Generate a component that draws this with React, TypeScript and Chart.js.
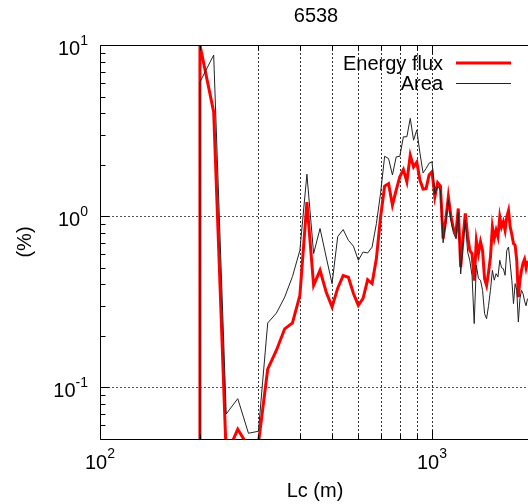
import React, { useEffect, useRef } from "react";
import { Chart, registerables } from "chart.js";

Chart.register(...registerables);

const FONT = '"Liberation Sans", Arial, Helvetica, sans-serif';

const TITLE = "6538";
const X_TITLE = "Lc (m)";
const Y_TITLE = "(%)";
const SERIES_ENERGY = "Energy flux";
const SERIES_AREA = "Area";

// Lc bins (m); the first entry is the zero baseline before the first bin
const LC = [
  200, 200, 220, 240, 260, 280, 300, 320, 340, 360, 380,
  400, 420, 440, 460, 480, 500, 520, 540, 560, 580,
  600, 620, 640, 660, 680, 700, 720, 740, 760, 780,
  800, 820, 840, 860, 880, 900, 920, 940, 960, 980,
  1000, 1020, 1040, 1060, 1080, 1100, 1120, 1140, 1160, 1180,
  1200, 1220, 1240, 1260, 1280, 1300, 1320, 1340, 1360, 1380,
  1400, 1420, 1440, 1460, 1480, 1500, 1520, 1540, 1560, 1580,
  1600, 1620, 1640, 1660, 1680, 1700, 1720, 1740, 1760, 1780,
  1800, 1820, 1840, 1860, 1880, 1900, 1920, 1940,
];

const ENERGY_FLUX = [
  0.0001, 10.0, 4.07, 0.04, 0.057, 0.045, 0.047, 0.128, 0.165, 0.22, 0.238,
  0.345, 1.21, 0.395, 0.483, 0.361, 0.295, 0.38, 0.45, 0.44, 0.354,
  0.302, 0.331, 0.426, 0.404, 0.566, 0.99, 1.5, 1.55, 1.16, 1.42,
  1.7, 1.87, 1.59, 2.27, 1.94, 2.07, 1.62, 1.44, 1.45, 1.74,
  1.82, 1.3, 1.57, 1.5, 0.74, 0.95, 1.3, 1.0, 0.85, 0.79,
  1.11, 0.505, 0.75, 1.04, 0.77, 0.63, 0.605, 0.42, 0.72, 0.605,
  0.708, 0.632, 0.432, 0.395, 0.47, 0.578, 0.866, 0.741, 0.828, 0.757,
  0.99, 0.866, 0.927, 0.828, 0.99, 1.08, 0.866, 0.78, 0.692, 0.676,
  0.553, 0.337, 0.423, 0.483, 0.531, 0.56, 0.5, 0.55,
];

const AREA = [
  0.0001, 6.08, 8.74, 0.07, 0.086, 0.054, 0.0555, 0.238, 0.272, 0.337, 0.445,
  0.632, 1.76, 0.605, 0.848, 0.578, 0.404, 0.76, 0.836, 0.724, 0.668,
  0.553, 0.618, 0.61, 0.66, 0.906, 1.36, 2.24, 2.17, 1.74, 2.22,
  2.24, 2.91, 2.91, 3.73, 2.78, 3.19, 2.33, 1.79, 1.9, 2.04,
  2.08, 1.35, 1.5, 1.42, 0.7, 0.92, 1.25, 0.95, 0.8, 0.74,
  1.05, 0.46, 0.68, 0.95, 0.62, 0.55, 0.45, 0.236, 0.517, 0.432,
  0.423, 0.369, 0.27, 0.252, 0.3, 0.369, 0.483, 0.423, 0.462, 0.442,
  0.553, 0.5, 0.494, 0.452, 0.632, 0.661, 0.529, 0.42, 0.309, 0.404,
  0.369, 0.241, 0.33, 0.369, 0.353, 0.32, 0.3, 0.33,
];

const X_MIN = 100;
const X_MAX = 1946;
const Y_MIN = 0.05;
const Y_MAX = 10;

const X_MAJOR = [100, 1000];
const X_MAJOR_LABELS = [["10", "2"], ["10", "3"]];
const X_MINOR = [200, 300, 400, 500, 600, 700, 800, 900];
const X_GRID = [200, 300, 400, 500, 600, 700, 800, 900, 1000];

const Y_MAJOR = [10, 1, 0.1];
const Y_MAJOR_LABELS = [["10", "1"], ["10", "0"], ["10", "-1"]];
const Y_MINOR = [0.06, 0.07, 0.08, 0.09, 0.2, 0.3, 0.4, 0.5, 0.6, 0.7, 0.8, 0.9, 2, 3, 4, 5, 6, 7, 8, 9];
const Y_GRID = [1, 0.1];

const gnuplotLook = {
  id: "gnuplotLook",
  beforeDatasetsDraw(chart: any) {
    const { ctx, chartArea: a, scales } = chart;
    const xs = scales.x;
    const ys = scales.y;
    ctx.save();
    ctx.lineWidth = 1;
    ctx.strokeStyle = "#333";
    ctx.setLineDash([2, 2]);
    for (const v of X_GRID) {
      const px = Math.round(xs.getPixelForValue(v)) + 0.5;
      ctx.beginPath();
      ctx.moveTo(px, a.top);
      ctx.lineTo(px, a.bottom);
      ctx.stroke();
    }
    ctx.strokeStyle = "#555";
    for (const v of Y_GRID) {
      const py = Math.round(ys.getPixelForValue(v)) + 0.5;
      ctx.beginPath();
      ctx.moveTo(a.left, py);
      ctx.lineTo(a.right, py);
      ctx.stroke();
    }
    ctx.restore();
  },
  afterDatasetsDraw(chart: any) {
    const { ctx, chartArea: a, scales } = chart;
    const xs = scales.x;
    const ys = scales.y;
    const L = Math.round(a.left) + 0.5;
    const T = Math.round(a.top) + 0.5;
    const B = Math.round(a.bottom) + 0.5;
    const R = a.right;
    ctx.save();
    ctx.setLineDash([]);
    ctx.lineWidth = 1;
    ctx.strokeStyle = "#000";
    ctx.beginPath();
    ctx.moveTo(R, T);
    ctx.lineTo(L, T);
    ctx.lineTo(L, B);
    ctx.lineTo(R, B);
    ctx.stroke();
    // ticks
    const tick = (px: number, len: number) => {
      ctx.beginPath();
      ctx.moveTo(px, B);
      ctx.lineTo(px, B - len);
      ctx.moveTo(px, T);
      ctx.lineTo(px, T + len);
      ctx.stroke();
    };
    for (const v of X_MINOR) tick(Math.round(xs.getPixelForValue(v)) + 0.5, 5);
    for (const v of X_MAJOR) tick(Math.round(xs.getPixelForValue(v)) + 0.5, 9);
    for (const v of Y_MINOR) {
      const py = Math.round(ys.getPixelForValue(v)) + 0.5;
      ctx.beginPath();
      ctx.moveTo(L, py);
      ctx.lineTo(L + 5, py);
      ctx.stroke();
    }
    for (const v of Y_MAJOR) {
      const py = Math.round(ys.getPixelForValue(v)) + 0.5;
      ctx.beginPath();
      ctx.moveTo(L, py);
      ctx.lineTo(L + 9, py);
      ctx.stroke();
    }
    ctx.restore();
  },
  afterDraw(chart: any) {
    const { ctx, scales } = chart;
    const xs = scales.x;
    const ys = scales.y;
    ctx.save();
    ctx.fillStyle = "#000";
    ctx.textBaseline = "alphabetic";
    const big = `20px ${FONT}`;
    const small = `14px ${FONT}`;

    // x tick labels
    X_MAJOR.forEach((v, i) => {
      const [b, e] = X_MAJOR_LABELS[i];
      ctx.font = big;
      const wb = ctx.measureText(b).width;
      ctx.font = small;
      const we = ctx.measureText(e).width;
      const px = xs.getPixelForValue(v);
      const start = px - (wb + we) / 2;
      ctx.textAlign = "left";
      ctx.font = big;
      ctx.fillText(b, start, 469);
      ctx.font = small;
      ctx.fillText(e, start + wb, 458);
    });

    // y tick labels
    Y_MAJOR.forEach((v, i) => {
      const [b, e] = Y_MAJOR_LABELS[i];
      const py = ys.getPixelForValue(v);
      ctx.font = small;
      const we = ctx.measureText(e).width;
      ctx.textAlign = "right";
      ctx.fillText(e, 88, py);
      ctx.font = big;
      ctx.fillText(b, 88 - we, py + 10);
    });

    // title
    ctx.font = big;
    ctx.textAlign = "center";
    ctx.fillText(TITLE, 316, 22);
    // x axis title
    ctx.fillText(X_TITLE, 315, 497);
    // y axis title
    ctx.save();
    ctx.translate(31, 242);
    ctx.rotate(-Math.PI / 2);
    ctx.textAlign = "center";
    ctx.fillText(Y_TITLE, 0, 0);
    ctx.restore();

    // legend
    ctx.textAlign = "right";
    ctx.font = big;
    ctx.fillText(SERIES_ENERGY, 443, 70);
    ctx.fillText(SERIES_AREA, 443, 90);
    ctx.lineCap = "butt";
    ctx.strokeStyle = "#ff0000";
    ctx.lineWidth = 3;
    ctx.beginPath();
    ctx.moveTo(456, 63);
    ctx.lineTo(511, 63);
    ctx.stroke();
    ctx.strokeStyle = "#222";
    ctx.lineWidth = 1;
    ctx.beginPath();
    ctx.moveTo(456, 83.5);
    ctx.lineTo(511, 83.5);
    ctx.stroke();
    ctx.restore();
  },
};

export default function App() {
  const ref = useRef<HTMLCanvasElement | null>(null);
  useEffect(() => {
    if (!ref.current) return;
    const chart = new Chart(ref.current, {
      type: "line",
      data: {
        datasets: [
          {
            label: SERIES_ENERGY,
            data: LC.map((x, i) => ({ x, y: ENERGY_FLUX[i] })),
            borderColor: "#ff0000",
            borderWidth: 3,
            pointRadius: 0,
            tension: 0,
            fill: false,
            order: 2,
          },
          {
            label: SERIES_AREA,
            data: LC.map((x, i) => ({ x, y: AREA[i] })),
            borderColor: "#222222",
            borderWidth: 1,
            pointRadius: 0,
            tension: 0,
            fill: false,
            order: 1,
          },
        ],
      },
      options: {
        animation: false,
        responsive: false,
        devicePixelRatio: 1,
        layout: { padding: { left: 100, top: 45, right: 0, bottom: 65 } },
        scales: {
          x: { type: "logarithmic", min: X_MIN, max: X_MAX, display: false },
          y: { type: "logarithmic", min: Y_MIN, max: Y_MAX, display: false },
        },
        plugins: {
          legend: { display: false },
          title: { display: false },
          tooltip: { enabled: false },
        },
        elements: { point: { radius: 0 }, line: { tension: 0 } },
      },
      plugins: [gnuplotLook],
    });
    return () => chart.destroy();
  }, []);
  return (
    <div style={{ position: "fixed", left: 0, top: 0, width: 528, height: 504, background: "#fff" }}>
      <canvas ref={ref} width={528} height={504} style={{ display: "block" }} />
    </div>
  );
}
